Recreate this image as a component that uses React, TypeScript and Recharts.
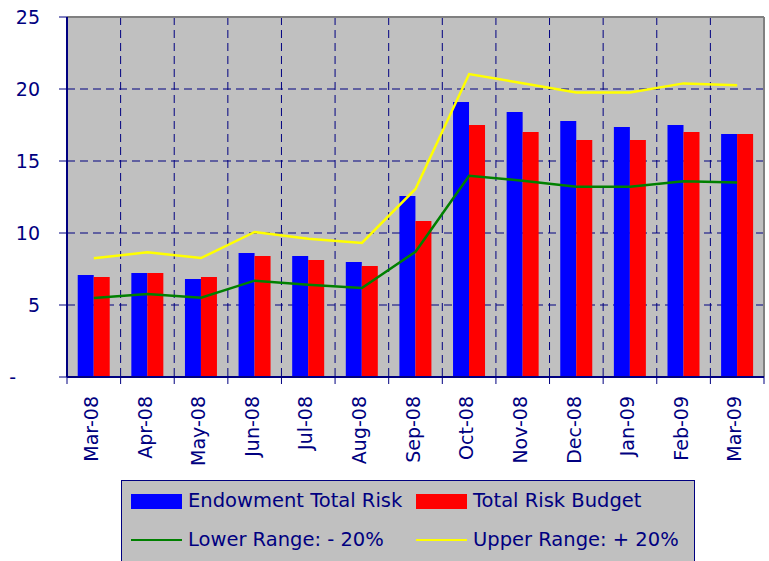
import React from 'react';
import {
  ComposedChart,
  Bar,
  Line,
  XAxis,
  YAxis,
  CartesianGrid,
  Legend,
  ReferenceLine,
} from 'recharts';

const months = [
  'Mar-08', 'Apr-08', 'May-08', 'Jun-08', 'Jul-08', 'Aug-08', 'Sep-08',
  'Oct-08', 'Nov-08', 'Dec-08', 'Jan-09', 'Feb-09', 'Mar-09',
];
const endowmentRisk = [7.08, 7.22, 6.8, 8.61, 8.4, 7.99, 12.57, 19.1, 18.4, 17.78, 17.36, 17.5, 16.88];
const riskBudget = [6.94, 7.22, 6.94, 8.4, 8.13, 7.71, 10.83, 17.5, 17.01, 16.46, 16.46, 17.01, 16.88];
const lowerRange = [5.49, 5.76, 5.51, 6.69, 6.41, 6.18, 8.7, 13.98, 13.63, 13.22, 13.22, 13.59, 13.5];
const upperRange = [8.24, 8.66, 8.26, 10.07, 9.6, 9.31, 13.06, 21.04, 20.4, 19.75, 19.75, 20.39, 20.26];
const yTicks = [0, 5, 10, 15, 20, 25];

const seriesNames = {
  endowment: 'Endowment Total Risk',
  budget: 'Total Risk Budget',
  lower: 'Lower Range: - 20%',
  upper: 'Upper Range: + 20%',
};

const data = months.map((m, i) => ({
  month: m,
  endowment: endowmentRisk[i],
  budget: riskBudget[i],
  lower: lowerRange[i],
  upper: upperRange[i],
}));

const NAVY = '#000080';
const FONT = '"DejaVu Sans", sans-serif';
const FS = 19;
const LFS = 19.5;

const XTick = (props: any) => {
  const { x, y, payload, index } = props;
  const half = payload && typeof payload.offset === 'number' && payload.offset > 0 ? payload.offset : 26.8;
  const isLast = index === months.length - 1;
  const ty = y + 19;
  return (
    <g>
      <line x1={x - half} x2={x - half} y1={y} y2={y + 7} stroke={NAVY} strokeWidth={1} />
      {isLast && <line x1={x + half} x2={x + half} y1={y} y2={y + 7} stroke={NAVY} strokeWidth={1} />}
      <text
        x={x}
        y={ty}
        dy="0.22em"
        textAnchor="end"
        transform={`rotate(-90, ${x}, ${ty})`}
        fill={NAVY}
        style={{ fontFamily: FONT, fontSize: FS }}
      >
        {payload.value}
      </text>
    </g>
  );
};

const YTick = (props: any) => {
  const { x, y, payload } = props;
  const isZero = payload.value === 0;
  return (
    <text
      x={isZero ? x - 43 : x - 19}
      y={y}
      dy="0.35em"
      textAnchor="end"
      fill={NAVY}
      style={{ fontFamily: FONT, fontSize: FS }}
    >
      {isZero ? '-' : String(payload.value)}
    </text>
  );
};

const LegendBox = () => {
  const item = (left: number, top: number, swatch: React.ReactNode, label: string) => (
    <div style={{ position: 'absolute', left, top, height: 24, display: 'flex', alignItems: 'center' }}>
      <div style={{ width: 51, display: 'flex', alignItems: 'center', justifyContent: 'center' }}>{swatch}</div>
      <span style={{ marginLeft: 6, color: NAVY, fontFamily: FONT, fontSize: LFS, whiteSpace: 'nowrap', lineHeight: '24px' }}>
        {label}
      </span>
    </div>
  );
  const rect = (c: string) => <div style={{ width: 51, height: 15, background: c }} />;
  const line = (c: string) => <div style={{ width: 51, height: 2, background: c }} />;
  return (
    <div
      style={{
        position: 'relative',
        width: 574,
        height: 95,
        boxSizing: 'border-box',
        background: '#C0C0C0',
        border: `1px solid ${NAVY}`,
      }}
    >
      {item(9, 8, rect('#0000FF'), seriesNames.endowment)}
      {item(294, 8, rect('#FF0000'), seriesNames.budget)}
      {item(9, 47, line('#008000'), seriesNames.lower)}
      {item(294, 47, line('#FFFF00'), seriesNames.upper)}
    </div>
  );
};

export default function App() {
  return (
    <div style={{ position: 'absolute', left: 0, top: 0, width: 769, height: 561, overflow: 'hidden', background: '#fff' }}>
      <ComposedChart
        width={769}
        height={561}
        data={data}
        margin={{ top: 17, right: 5, bottom: 0, left: 0 }}
        barCategoryGap="20%"
        barGap={0}
        style={{ fontFamily: FONT }}
      >
        <CartesianGrid
          fill="#C0C0C0"
          stroke={NAVY}
          strokeDasharray="8 5"
          verticalCoordinatesGenerator={({ offset }: any) =>
            months.slice(1).map((_, i) => offset.left + ((i + 1) * offset.width) / months.length)
          }
        />
        <XAxis
          dataKey="month"
          interval={0}
          height={184}
          tickLine={false}
          tickSize={0}
          tickMargin={0}
          axisLine={{ stroke: NAVY, strokeWidth: 2 }}
          tick={<XTick />}
        />
        <YAxis
          domain={[0, 25]}
          ticks={yTicks}
          width={67}
          tickSize={8}
          tickMargin={0}
          tickLine={{ stroke: NAVY }}
          axisLine={{ stroke: NAVY, strokeWidth: 2 }}
          tick={<YTick />}
          allowDataOverflow
        />
        <ReferenceLine y={25} stroke="#808080" strokeWidth={2} />
        <ReferenceLine x="Mar-09" position="end" stroke="#808080" strokeWidth={2} />
        <Bar dataKey="endowment" name={seriesNames.endowment} fill="#0000FF" isAnimationActive={false} />
        <Bar dataKey="budget" name={seriesNames.budget} fill="#FF0000" isAnimationActive={false} />
        <Line
          type="linear"
          dataKey="lower"
          name={seriesNames.lower}
          stroke="#008000"
          strokeWidth={2.5}
          dot={false}
          activeDot={false}
          isAnimationActive={false}
        />
        <Line
          type="linear"
          dataKey="upper"
          name={seriesNames.upper}
          stroke="#FFFF00"
          strokeWidth={2.5}
          dot={false}
          activeDot={false}
          isAnimationActive={false}
        />
        <Legend
          layout="horizontal"
          verticalAlign="middle"
          align="center"
          wrapperStyle={{ left: 121, top: 480, width: 574, height: 95 }}
          content={() => <LegendBox />}
        />
      </ComposedChart>
    </div>
  );
}
